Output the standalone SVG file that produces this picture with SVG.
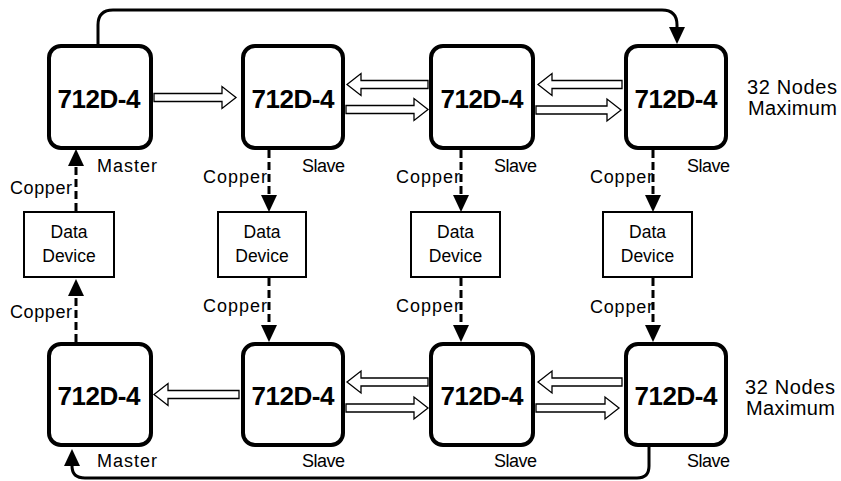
<svg xmlns="http://www.w3.org/2000/svg" width="841" height="481" viewBox="0 0 841 481">
<style>
.node{fill:#fff;stroke:#000;stroke-width:4}
.dev{fill:#fff;stroke:#000;stroke-width:2}
.big{font-family:"Liberation Sans",Arial,sans-serif;font-weight:bold;font-size:26px;text-anchor:middle;fill:#000}
.lbl{font-family:"Liberation Sans",Arial,sans-serif;font-size:18px;fill:#000}
.dt{font-family:"Liberation Sans",Arial,sans-serif;font-size:17.5px;fill:#000;text-anchor:middle}
.side{font-family:"Liberation Sans",Arial,sans-serif;font-size:20px;fill:#000}
.loop{fill:none;stroke:#000;stroke-width:3}
.dash{fill:none;stroke:#000;stroke-width:3;stroke-dasharray:8 4}
.hollow{fill:#fff;stroke:#000;stroke-width:1.3;stroke-linejoin:miter}
</style>
<defs>
<marker id="ah" viewBox="0 0 17 16" refX="0" refY="8" markerWidth="17" markerHeight="16" markerUnits="userSpaceOnUse" orient="auto">
<path d="M0,0 L17,8 L0,16 z" fill="#000"/>
</marker>
</defs>
<rect width="841" height="481" fill="#fff"/>
<g id="connectors">
<path class="loop" d="M98 44 V25 Q98 10 113 10 H662 Q677 10 677 25 V27" marker-end="url(#ah)"/>
<path class="loop" d="M649 447 V466 Q649 478 637 478 H85 Q72 478 72 466" marker-end="url(#ah)"/>
<path class="dash" d="M76 211 V166" marker-end="url(#ah)"/>
<path class="dash" d="M76 342 V296" marker-end="url(#ah)"/>
<path class="dash" d="M269 150 V195" marker-end="url(#ah)"/>
<path class="dash" d="M269 278 V325" marker-end="url(#ah)"/>
<path class="dash" d="M461 150 V195" marker-end="url(#ah)"/>
<path class="dash" d="M461 278 V325" marker-end="url(#ah)"/>
<path class="dash" d="M653 150 V195" marker-end="url(#ah)"/>
<path class="dash" d="M653 278 V325" marker-end="url(#ah)"/>
<polygon class="hollow" points="154,93.5 222,93.5 222,86.5 236,97.5 222,108.5 222,101.5 154,101.5"/>
<polygon class="hollow" points="428,80.5 361,80.5 361,73.5 347,84.5 361,95.5 361,88.5 428,88.5"/>
<polygon class="hollow" points="346,105.5 414,105.5 414,98.5 428,109.5 414,120.5 414,113.5 346,113.5"/>
<polygon class="hollow" points="622,80.5 552,80.5 552,73.5 538,84.5 552,95.5 552,88.5 622,88.5"/>
<polygon class="hollow" points="536,106 607,106 607,99 621,110 607,121 607,114 536,114"/>
<polygon class="hollow" points="239,390.5 168,390.5 168,383.5 154,394.5 168,405.5 168,398.5 239,398.5"/>
<polygon class="hollow" points="428,378 361,378 361,371 347,382 361,393 361,386 428,386"/>
<polygon class="hollow" points="346,404 414,404 414,397 428,408 414,419 414,412 346,412"/>
<polygon class="hollow" points="622,378 552,378 552,371 538,382 552,393 552,386 622,386"/>
<polygon class="hollow" points="536,404 605,404 605,397 619,408 605,419 605,412 536,412"/>
</g>
<g id="n1"><rect class="node" x="49" y="46" width="102" height="102" rx="12"/><text class="big" x="99" y="108" textLength="83">712D-4</text><text class="lbl" x="97" y="172" textLength="60">Master</text></g>
<g id="n2"><rect class="node" x="243" y="46" width="100" height="102" rx="12"/><text class="big" x="293" y="108" textLength="83">712D-4</text><text class="lbl" x="302" y="172" textLength="43">Slave</text></g>
<g id="n3"><rect class="node" x="431" y="46" width="102" height="102" rx="12"/><text class="big" x="482" y="108" textLength="83">712D-4</text><text class="lbl" x="494" y="172" textLength="43">Slave</text></g>
<g id="n4"><rect class="node" x="626" y="46" width="100" height="102" rx="12"/><text class="big" x="676" y="108" textLength="83">712D-4</text><text class="lbl" x="687" y="172" textLength="43">Slave</text></g>
<g id="n5"><rect class="node" x="49" y="344" width="102" height="101" rx="12"/><text class="big" x="99" y="405" textLength="83">712D-4</text><text class="lbl" x="97" y="467" textLength="60">Master</text></g>
<g id="n6"><rect class="node" x="243" y="344" width="100" height="101" rx="12"/><text class="big" x="293" y="405" textLength="83">712D-4</text><text class="lbl" x="302" y="467" textLength="43">Slave</text></g>
<g id="n7"><rect class="node" x="431" y="344" width="102" height="101" rx="12"/><text class="big" x="482" y="405" textLength="83">712D-4</text><text class="lbl" x="494" y="467" textLength="43">Slave</text></g>
<g id="n8"><rect class="node" x="626" y="344" width="100" height="101" rx="12"/><text class="big" x="676" y="405" textLength="83">712D-4</text><text class="lbl" x="687" y="467" textLength="43">Slave</text></g>
<g id="d1"><rect class="dev" x="24" y="212" width="90" height="65"/><text class="dt" x="69" y="238">Data</text><text class="dt" x="69" y="262">Device</text></g>
<g id="d2"><rect class="dev" x="218" y="212" width="88" height="65"/><text class="dt" x="262" y="238">Data</text><text class="dt" x="262" y="262">Device</text></g>
<g id="d3"><rect class="dev" x="411" y="212" width="89" height="65"/><text class="dt" x="455.5" y="238">Data</text><text class="dt" x="455.5" y="262">Device</text></g>
<g id="d4"><rect class="dev" x="603" y="212" width="89" height="65"/><text class="dt" x="647.5" y="238">Data</text><text class="dt" x="647.5" y="262">Device</text></g>
<g id="labels">
<text class="lbl" x="10" y="194" textLength="62">Copper</text>
<text class="lbl" x="10" y="318" textLength="62">Copper</text>
<text class="lbl" x="203" y="182.5" textLength="64">Copper</text>
<text class="lbl" x="203" y="312" textLength="64">Copper</text>
<text class="lbl" x="396" y="182.5" textLength="64">Copper</text>
<text class="lbl" x="396" y="312" textLength="64">Copper</text>
<text class="lbl" x="590" y="182.5" textLength="63">Copper</text>
<text class="lbl" x="590" y="313" textLength="63">Copper</text>
<text class="side" x="747" y="94" textLength="90">32 Nodes</text>
<text class="side" x="748" y="115" textLength="89">Maximum</text>
<text class="side" x="745" y="394" textLength="90">32 Nodes</text>
<text class="side" x="746" y="415" textLength="89">Maximum</text>
</g>
</svg>
